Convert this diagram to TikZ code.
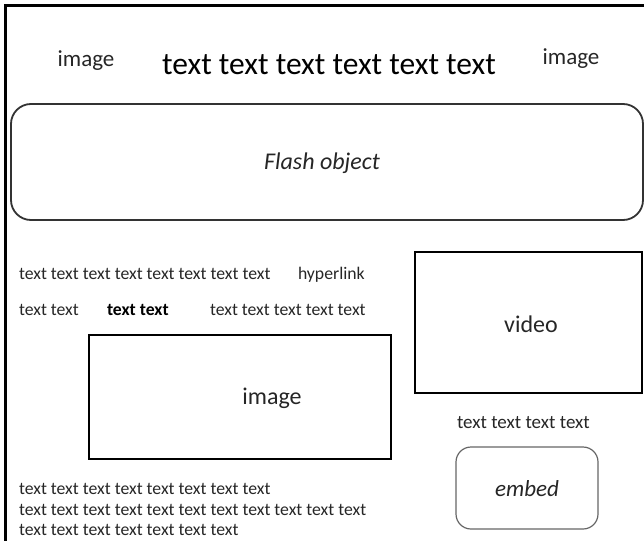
\documentclass[tikz,border=0pt]{standalone}
\usepackage{fontspec}
\setmainfont{Carlito}
\begin{document}
\begin{tikzpicture}[x=1pt,y=-1pt,
  every node/.style={inner sep=0pt,outer sep=0pt,text=black!85},
  small/.style={font=\fontsize{17.7}{20}\selectfont,anchor=base west},
  frame/.style={line width=3pt,black},
  heavybox/.style={draw=black,line width=2.6pt},
  roundbox/.style={draw=black!80,line width=1.8pt,rounded corners=20pt},
  thinround/.style={draw=black!60,line width=1.2pt,rounded corners=15pt}]
\useasboundingbox (0,0) rectangle (644,540);
% outer frame (left and top edges visible)
\coordinate (fbl) at (5,541);
\coordinate (ftl) at (5,6);
\coordinate (ftr) at (645,6);
\draw[frame] (fbl) -- (ftl) -- (ftr);
% header
\node[font=\fontsize{23}{26}\selectfont,anchor=base] (imgL) at (86,67) {image};
\node[font=\fontsize{31.5}{36}\selectfont,anchor=base,text=black] (title) at (329,75) {text text text text text text};
\node[font=\fontsize{23}{26}\selectfont,anchor=base] (imgR) at (571,65) {image};
% flash
\node[roundbox,minimum width=632pt,minimum height=116pt] (flash) at (327,162) {};
\node[font=\fontsize{24}{28}\selectfont\itshape] (flashlbl) at (322,163) {Flash object};
% text lines
\node[small] (l1) at (19,279) {text text text text text text text text};
\node[small] (hyper) at (298,279) {hyperlink};
\node[small] (l2a) at (19,315) {text text};
\node[small,font=\fontsize{17.7}{20}\selectfont\bfseries,text=black] (l2b) at (107,315) {text text};
\node[small] (l2c) at (210,315) {text text text text text};
% image box
\node[heavybox,minimum width=302pt,minimum height=124pt] (imgbox) at (240,397) {};
\node[font=\fontsize{24}{28}\selectfont] (imglbl) at (272,398) {image};
% video box
\node[heavybox,minimum width=227pt,minimum height=141pt] (vidbox) at (528.5,322.5) {};
\node[font=\fontsize{24}{28}\selectfont] (vidlbl) at (531,324) {video};
% right column
\node[font=\fontsize{19}{22}\selectfont,anchor=base west] (tt4) at (457,428) {text text text text};
\node[thinround,minimum width=142pt,minimum height=82pt] (embedbox) at (527,488) {};
\node[font=\fontsize{23}{26}\selectfont\itshape] (embedlbl) at (527,489) {embed};
% bottom text
\node[small] (b1) at (19,494) {text text text text text text text text};
\node[small] (b2) at (19,515) {text text text text text text text text text text text};
\node[small] (b3) at (19,535) {text text text text text text text};
\end{tikzpicture}
\end{document}
